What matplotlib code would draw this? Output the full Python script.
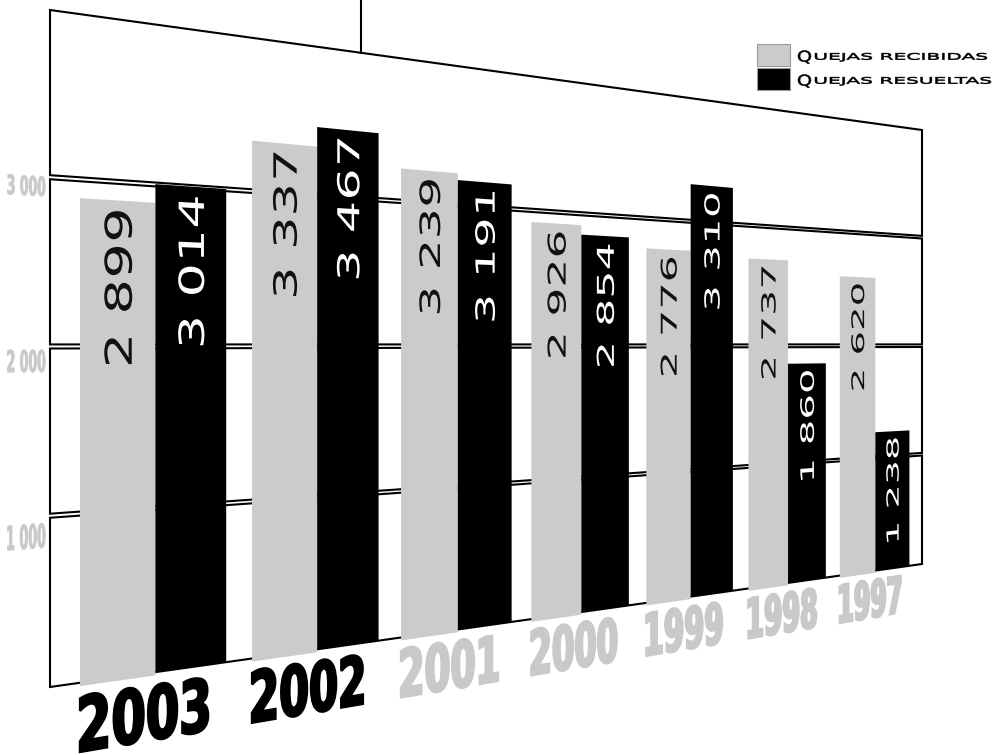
import numpy as np
import matplotlib
matplotlib.use("Agg")
import matplotlib.pyplot as plt
from matplotlib import transforms as mtransforms
from matplotlib.font_manager import FontProperties
from matplotlib.patches import PathPatch, Rectangle
from matplotlib.textpath import TextPath

# datos del grafico
years = ['2003', '2002', '2001', '2000', '1999', '1998', '1997']
recibidas = [2899, 3337, 3239, 2926, 2776, 2737, 2620]
resueltas = [3014, 3467, 3191, 2854, 3310, 1860, 1238]
yticks = [1000, 2000, 3000]
series = ['Quejas recibidas', 'Quejas resueltas']
years_dark = ['2003', '2002']

GRIS = '#cbcbcb'
GRIS_TXT = '#c9c9c9'

W, H = 995, 755
fig = plt.figure(figsize=(W / 100, H / 100), dpi=100)
ax = fig.add_axes([0, 0, 1, 1])
ax.set_xlim(0, W)
ax.set_ylim(H, 0)
ax.axis('off')

# marco en perspectiva: esquinas (u, v) del plano -> pixeles
src = [(0, 0), (1, 0), (0, 1), (1, 1)]
dst = [(50, 687), (922, 564), (50, 10), (922, 130)]
XL, XR, VMAX = -0.58, 6.58, 4000


def homografia(src, dst):
    A, b = [], []
    for (u, v), (X, Y) in zip(src, dst):
        A.append([u, v, 1, 0, 0, 0, -u * X, -v * X])
        b.append(X)
        A.append([0, 0, 0, u, v, 1, -u * Y, -v * Y])
        b.append(Y)
    h = np.linalg.solve(np.array(A, float), np.array(b, float))
    return np.append(h, 1).reshape(3, 3)


class Perspectiva(mtransforms.Transform):
    input_dims = output_dims = 2

    def __init__(self, M):
        super().__init__()
        self.M = M

    def transform_non_affine(self, values):
        xy = np.asarray(values, float).reshape(-1, 2)
        u = (xy[:, 0] - XL) / (XR - XL)
        v = xy[:, 1] / VMAX
        p = self.M @ np.vstack([u, v, np.ones_like(u)])
        return (p[:2] / p[2]).T


persp = Perspectiva(homografia(src, dst)) + ax.transData


# texto como trayecto ajustado a una caja (x0, x1, y0, y1)
def texto_caja(s, prop, caja, trans, rot=False, **kw):
    x0, x1, y0, y1 = caja
    tp = TextPath((0, 0), s, size=10, prop=prop)
    bb = tp.get_extents()
    aff = mtransforms.Affine2D().translate(-bb.x0, -bb.y0).scale(1 / bb.width, 1 / bb.height)
    if rot:
        aff.rotate_deg(90).translate(1, 0)
    aff.scale(x1 - x0, y1 - y0).translate(x0, y0)
    ax.add_patch(PathPatch(tp, transform=aff + trans, **kw))


# paneles del marco
bordes = [0] + yticks + [VMAX]
for k in range(len(bordes) - 1):
    lo = bordes[k] + (24 if k > 0 else 0)
    hi = bordes[k + 1]
    ax.add_patch(Rectangle((XL, lo), XR - XL, hi - lo, fill=False, ec='black',
                           lw=1.5, joinstyle='miter', transform=persp, zorder=1))
ax.plot([1.297, 1.297], [VMAX, VMAX * 1.2], color='black', lw=1.5,
        transform=persp, zorder=1)

# barras
x = np.arange(len(years))
bw = 0.42
ax.bar(x - bw, np.array(recibidas) + 20, bw, bottom=-20, align='edge',
       color=GRIS, transform=persp, zorder=2)
ax.bar(x, resueltas, bw, align='edge', color='black', transform=persp, zorder=2)

# valores dentro de las barras
fp_num = FontProperties(family='DejaVu Sans')
for i in range(len(years)):
    for val, xc, col in [(recibidas[i], x[i] - bw / 2, '#111111'),
                         (resueltas[i], x[i] + bw / 2, 'white')]:
        s = f'{val:,}'.replace(',', ' ')
        top = val - 65
        texto_caja(s, fp_num, (xc - 0.078, xc + 0.078, top - 930, top), persp,
                   rot=True, fc=col, ec='none', zorder=3)

# años bajo el eje
fp_year = FontProperties(family=['Liberation Sans Narrow', 'DejaVu Sans'], weight='bold')
for i, yr in enumerate(years):
    col = 'black' if yr in years_dark else GRIS_TXT
    texto_caja(yr, fp_year, (x[i] - 0.42, x[i] + 0.31, -420, -75), persp,
               fc=col, ec=col, lw=1.8, zorder=3)

# etiquetas del eje vertical
for t in yticks:
    off = 45 + (3000 - t) * 0.028
    hh = 118 + (3000 - t) * 0.015
    yc = t - off
    texto_caja(f'{t:,}'.replace(',', ' '), fp_year,
               (XL - 0.22, XL - 0.025, yc - hh / 2, yc + hh / 2), persp,
               fc=GRIS_TXT, ec=GRIS_TXT, lw=0.6, zorder=3)

# leyenda
fp_ley = FontProperties(family='DejaVu Sans')
for j, (nombre, col) in enumerate(zip(series, [GRIS, 'black'])):
    y0 = 44 + 24 * j
    ax.add_patch(Rectangle((757, y0), 33, 22, fc=col, ec='#9a9a9a', lw=0.8, zorder=3))
    texto_caja(nombre[0].upper(), fp_ley, (798, 811, y0 + 19.5, y0 + 6.5),
               ax.transData, fc='black', ec='black', lw=0.4, zorder=3)
    x_fin = 987 if j == 0 else 991
    texto_caja(nombre[1:].upper(), fp_ley, (815, x_fin, y0 + 17.5, y0 + 9),
               ax.transData, fc='black', ec='black', lw=0.4, zorder=3)

fig.savefig('out.png', dpi=100)
